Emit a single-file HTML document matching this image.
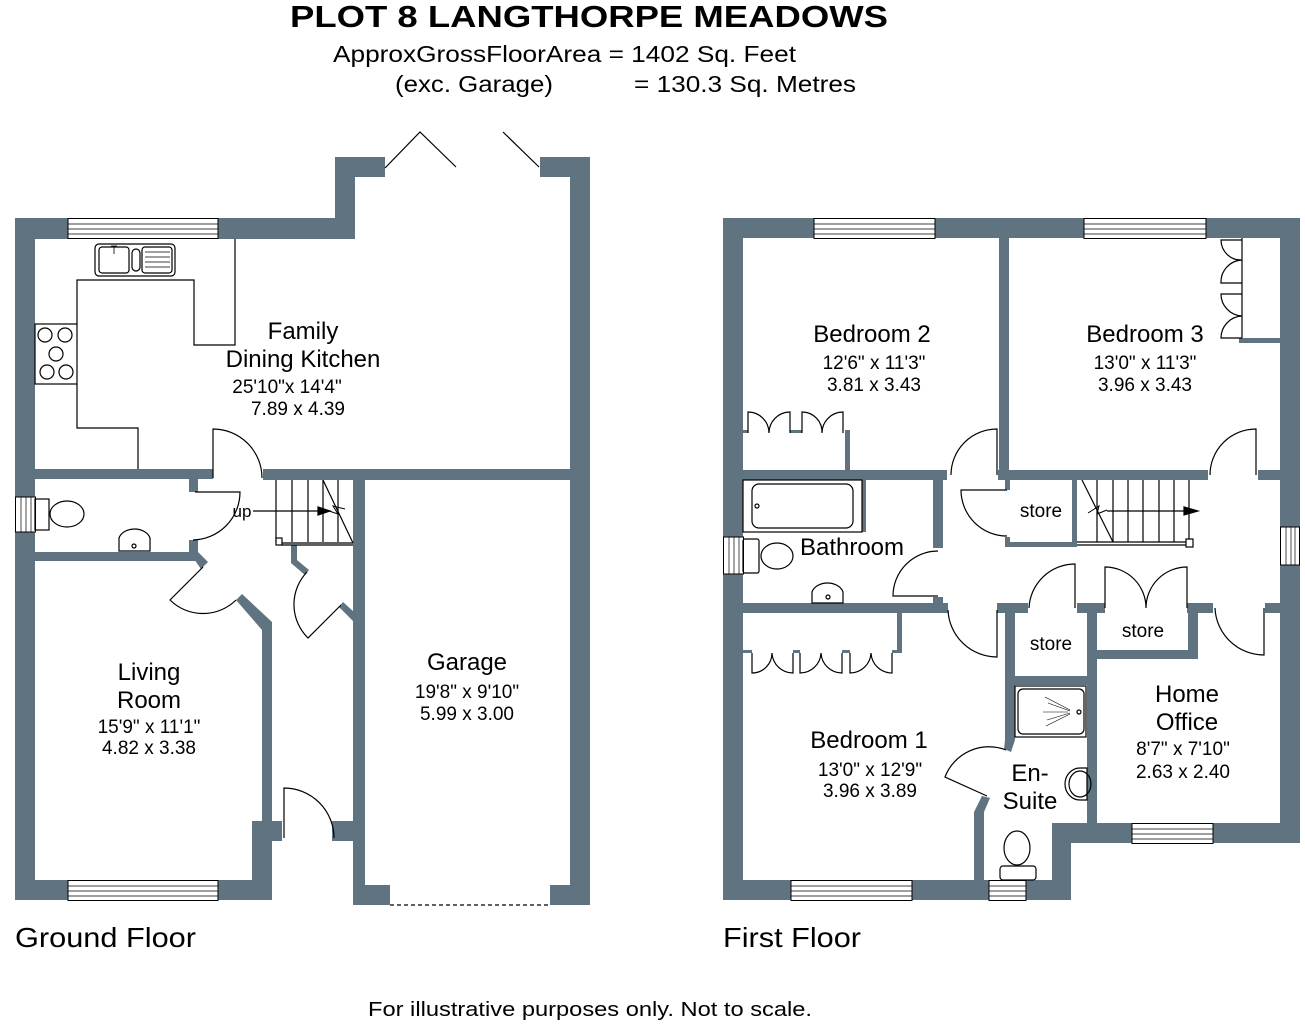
<!DOCTYPE html>
<html><head><meta charset="utf-8"><style>
html,body{margin:0;padding:0;background:#fff;}
svg{display:block;}
text{font-family:"Liberation Sans",Arial,sans-serif;fill:#000;}
</style></head><body>
<svg width="1305" height="1024" viewBox="0 0 1305 1024" xmlns="http://www.w3.org/2000/svg">
<text x="589" y="27" font-size="31" font-weight="bold" text-anchor="middle" textLength="598" lengthAdjust="spacingAndGlyphs">PLOT 8 LANGTHORPE MEADOWS</text>
<text x="333" y="62" font-size="23" textLength="463" lengthAdjust="spacingAndGlyphs">ApproxGrossFloorArea = 1402 Sq. Feet</text>
<text x="395" y="92" font-size="23" textLength="158" lengthAdjust="spacingAndGlyphs">(exc. Garage)</text>
<text x="634" y="92" font-size="23" textLength="222" lengthAdjust="spacingAndGlyphs">= 130.3 Sq. Metres</text>

<g fill="#5f7381">
<rect x="15" y="218" width="20" height="682"/>
<rect x="15" y="218" width="340" height="21"/>
<rect x="335" y="157" width="20" height="82"/>
<rect x="335" y="157" width="50" height="20"/>
<rect x="540" y="157" width="50" height="20"/>
<rect x="570" y="157" width="20" height="748"/>
<rect x="35" y="469" width="178" height="10"/>
<rect x="263" y="469" width="307" height="11"/>
<rect x="189" y="479" width="9" height="13"/>
<rect x="189" y="540" width="9" height="13"/>
<rect x="35" y="552" width="163" height="9"/>
<polygon points="189,552 198,552 208,562 201,569"/>
<polygon points="236,600 242,594 272,622 272,822 262,822 262,630"/>
<rect x="252" y="821" width="20" height="79"/>
<rect x="252" y="821" width="30" height="20"/>
<rect x="15" y="880" width="257" height="20"/>
<rect x="332" y="821" width="22" height="20"/>
<rect x="353" y="479" width="12" height="426"/>
<rect x="353" y="885" width="37" height="20"/>
<rect x="550" y="885" width="40" height="20"/>
<polygon points="291,545 297,545 297,560 309,570 305,575 291,563"/>
<polygon points="339,607 343,602 354,612 354,622"/>

<rect x="723" y="218" width="20" height="682"/>
<rect x="723" y="218" width="577" height="20"/>
<rect x="1280" y="218" width="20" height="625"/>
<rect x="1053" y="823" width="247" height="20"/>
<rect x="1052" y="823" width="19" height="77"/>
<rect x="723" y="880" width="348" height="20"/>
<rect x="999" y="238" width="10" height="242"/>
<rect x="1239" y="338" width="41" height="5"/>
<rect x="743" y="470" width="204" height="10"/>
<rect x="998" y="470" width="210" height="10"/>
<rect x="1258" y="470" width="22" height="10"/>
<rect x="845" y="430" width="5" height="40"/>
<rect x="743" y="430" width="5" height="3"/>
<rect x="790" y="430" width="12" height="3"/>
<rect x="933" y="480" width="10" height="68"/>
<rect x="933" y="597" width="10" height="6"/>
<rect x="743" y="603" width="205" height="10"/>
<rect x="997" y="603" width="31" height="10"/>
<rect x="1077" y="603" width="28" height="10"/>
<rect x="1187" y="603" width="26" height="10"/>
<rect x="1265" y="603" width="15" height="10"/>
<rect x="1005" y="480" width="5" height="10"/>
<rect x="1005" y="537" width="5" height="10"/>
<rect x="1005" y="542" width="72" height="5"/>
<rect x="1072" y="480" width="5" height="67"/>
<rect x="1005" y="613" width="10" height="127"/>
<polygon points="1005,740 1015,740 1011,752 1004,749"/>
<rect x="1015" y="676" width="72" height="9"/>
<rect x="1087" y="613" width="10" height="210"/>
<rect x="1097" y="650" width="101" height="9"/>
<rect x="1188" y="613" width="10" height="46"/>
<rect x="897" y="613" width="5" height="40"/>
<rect x="743" y="650" width="9" height="3"/>
<rect x="793" y="650" width="7" height="3"/>
<rect x="842" y="650" width="8" height="3"/>
<rect x="892" y="650" width="5" height="3"/>
<rect x="974" y="812" width="10" height="68"/>
<polygon points="974,812 984,812 990,798 982,796"/>
<rect x="862" y="480" width="4" height="52"/>
</g>

<g fill="#fff" stroke="#000" stroke-width="1">
<rect x="68" y="218.5" width="150" height="20"/>
<rect x="68" y="880.5" width="150" height="20"/>
<rect x="814" y="218.5" width="121" height="20"/>
<rect x="1084" y="218.5" width="122" height="20"/>
<rect x="791" y="880.5" width="121" height="20"/>
<rect x="989" y="880.5" width="37" height="20"/>
<rect x="1132" y="823.5" width="81" height="20"/>
<rect x="1280.5" y="527" width="19" height="38"/>
<rect x="723.5" y="537" width="20" height="37"/>
<rect x="15.5" y="497" width="20" height="35"/>
</g>
<g stroke="#000" stroke-width="0.7" fill="none">
<path d="M68,224H218M68,229H218M68,234H218"/>
<path d="M68,886H218M68,891H218M68,896H218"/>
<path d="M814,224H935M814,229H935M814,234H935"/>
<path d="M1084,224H1206M1084,229H1206M1084,234H1206"/>
<path d="M791,886H912M791,891H912M791,896H912"/>
<path d="M989,886H1026M989,891H1026M989,896H1026"/>
<path d="M1132,829H1213M1132,834H1213M1132,839H1213"/>
<path d="M1286,527V565M1291,527V565M1295,527V565"/>
<path d="M729,537V574M734,537V574M739,537V574"/>
<path d="M21,497V532M26,497V532M31,497V532"/>
</g>

<g stroke="#000" stroke-width="1.2" fill="none">
<path d="M385,168L420,132L456,167M503,132L539,167"/>
<path d="M390,905H550" stroke-dasharray="4,3"/>
<path d="M77,324V280H194V345H235V239"/>
<path d="M77,384V428H138V469"/>
<rect x="35" y="324" width="42" height="60"/>
<circle cx="45" cy="335" r="7"/><circle cx="65" cy="335" r="7"/><circle cx="56" cy="354" r="7"/><circle cx="47" cy="372" r="7"/><circle cx="66" cy="372" r="7"/>
<rect x="95" y="244" width="80" height="32" rx="4"/>
<rect x="99" y="247" width="30" height="26" rx="3"/>
<rect x="132" y="249" width="8" height="22" rx="4"/>
<rect x="142" y="247" width="30" height="26" rx="3"/>
<path d="M145,252H170M145,257H170M145,262H170M145,267H170M111,246H117M114,246V254" stroke-width="0.8"/>
<ellipse cx="67" cy="514" rx="17" ry="13"/>
<rect x="35" y="499" width="14" height="31"/>
<path d="M119,551V538A16,12 0 0 1 150,538V551Z"/>
<circle cx="134" cy="546" r="2"/>
<path d="M213,478V429A49,49 0 0 1 262,478"/>
<path d="M195,492H240A48,48 0 0 1 193,540"/>
<path d="M203,567L170,600A47,47 0 0 0 236,600"/>
<path d="M341,605L308,638A47,47 0 0 1 307,572"/>
<path d="M284,838V788A50,50 0 0 1 334,838"/>
<path d="M276,480V542M292,480V542M308,480V542M323,480V542M338,480V542M276,543H353M281,545H353"/>
<path d="M323,480L353,543"/>
<rect x="276" y="538" width="6" height="7" fill="#fff"/>
<path d="M253,511H322"/>
<polygon points="318,507 330,511 318,515" fill="#000"/>
<path d="M329,511L338,514L333,506L345,509" stroke-width="1"/>

<rect x="743" y="480" width="119" height="52"/>
<rect x="752" y="484" width="101" height="44" rx="7"/>
<circle cx="757" cy="506" r="2"/>
<ellipse cx="777" cy="556" rx="16" ry="13"/>
<rect x="743" y="539" width="16" height="34" rx="2"/>
<path d="M812,603V592A16,12 0 0 1 843,592V603Z"/>
<circle cx="828" cy="597" r="2"/>
<rect x="1015" y="686" width="71" height="51"/>
<rect x="1018" y="689" width="66" height="45" rx="5"/>
<circle cx="1079" cy="712" r="2"/>
<path d="M1045,697L1070,710M1048,703L1070,711M1043,712H1068M1047,720L1070,713M1046,726L1070,714" stroke-width="0.6"/>
<path d="M1087,768V800H1080A15,16 0 0 1 1080,768Z"/>
<ellipse cx="1080" cy="784" rx="11" ry="13"/>
<ellipse cx="1017" cy="848" rx="13" ry="17"/>
<rect x="1000" y="866" width="36" height="14" rx="3"/>
<path d="M1097,480V542M1113,480V542M1128,480V542M1143,480V542M1159,480V542M1174,480V542M1189,480V542M1077,542H1190M1077,545H1190"/>
<path d="M1082,480L1113,542"/>
<rect x="1186" y="539" width="7" height="8" fill="#fff"/>
<path d="M1107,511H1188"/>
<polygon points="1184,507 1198,511 1184,515" fill="#000"/>
<path d="M1088,513L1099,506L1097,514L1107,510" stroke-width="1"/>
<path d="M997,475V429A46,46 0 0 0 951,475"/>
<path d="M1256,475V429A46,46 0 0 0 1210,475"/>
<path d="M1007,490H961A46,46 0 0 0 1007,536"/>
<path d="M938,596H893A45,45 0 0 1 938,551"/>
<path d="M997,610V657A49,49 0 0 1 948,610"/>
<path d="M1075,608V564A46,46 0 0 0 1029,608"/>
<path d="M1105,608V567A41,41 0 0 1 1146,608M1187,608V567A41,41 0 0 0 1146,608"/>
<path d="M1264,608V655A49,49 0 0 1 1215,608"/>
<path d="M987,796L945,777A47,47 0 0 1 1006,750"/>
<path d="M748,433V412A21,21 0 0 1 769,433A21,21 0 0 1 790,412V433"/>
<path d="M802,433V412A20,20 0 0 1 822,433A21,21 0 0 1 843,412V433"/>
<path d="M752,653V673A20,20 0 0 0 772,653A21,21 0 0 0 793,673V653"/>
<path d="M800,653V673A21,21 0 0 0 821,653A21,21 0 0 0 842,673V653"/>
<path d="M850,653V673A21,21 0 0 0 871,653A21,21 0 0 0 892,673V653"/>
<path d="M1242,238V338"/>
<path d="M1242,240H1221A20,20 0 0 0 1242,260A22,22 0 0 0 1221,283H1242"/>
<path d="M1242,294H1221A22,22 0 0 0 1242,316A22,22 0 0 0 1221,338H1242"/>
</g>

<g text-anchor="middle">
<text x="303" y="339" font-size="24">Family</text>
<text x="303" y="367" font-size="24">Dining Kitchen</text>
<text x="287" y="393" font-size="19">25'10"x 14'4"</text>
<text x="298" y="415" font-size="19">7.89 x 4.39</text>
<text x="149" y="680" font-size="24">Living</text>
<text x="149" y="708" font-size="24">Room</text>
<text x="149" y="733" font-size="19">15'9" x 11'1"</text>
<text x="149" y="754" font-size="19">4.82 x 3.38</text>
<text x="467" y="670" font-size="24">Garage</text>
<text x="467" y="698" font-size="19">19'8" x 9'10"</text>
<text x="467" y="720" font-size="19">5.99 x 3.00</text>

<text x="872" y="342" font-size="24">Bedroom 2</text>
<text x="874" y="369" font-size="19">12'6" x 11'3"</text>
<text x="874" y="391" font-size="19">3.81 x 3.43</text>
<text x="1145" y="342" font-size="24">Bedroom 3</text>
<text x="1145" y="369" font-size="19">13'0" x 11'3"</text>
<text x="1145" y="391" font-size="19">3.96 x 3.43</text>
<text x="1041" y="517" font-size="19">store</text>
<text x="852" y="555" font-size="24">Bathroom</text>
<text x="1051" y="650" font-size="19">store</text>
<text x="1143" y="637" font-size="19">store</text>
<text x="869" y="748" font-size="24">Bedroom 1</text>
<text x="870" y="776" font-size="19">13'0" x 12'9"</text>
<text x="870" y="797" font-size="19">3.96 x 3.89</text>
<text x="1187" y="702" font-size="24">Home</text>
<text x="1187" y="730" font-size="24">Office</text>
<text x="1183" y="755" font-size="19">8'7" x 7'10"</text>
<text x="1183" y="778" font-size="19">2.63 x 2.40</text>
<text x="1030" y="781" font-size="24">En-</text>
<text x="1030" y="809" font-size="24">Suite</text>
<text x="242" y="517" font-size="17">up</text>
</g>
<text x="15" y="947" font-size="28" textLength="181" lengthAdjust="spacingAndGlyphs">Ground Floor</text>
<text x="723" y="947" font-size="28" textLength="138" lengthAdjust="spacingAndGlyphs">First Floor</text>
<text x="368" y="1016" font-size="20" textLength="444" lengthAdjust="spacingAndGlyphs">For illustrative purposes only. Not to scale.</text>
</svg>
</body></html>
